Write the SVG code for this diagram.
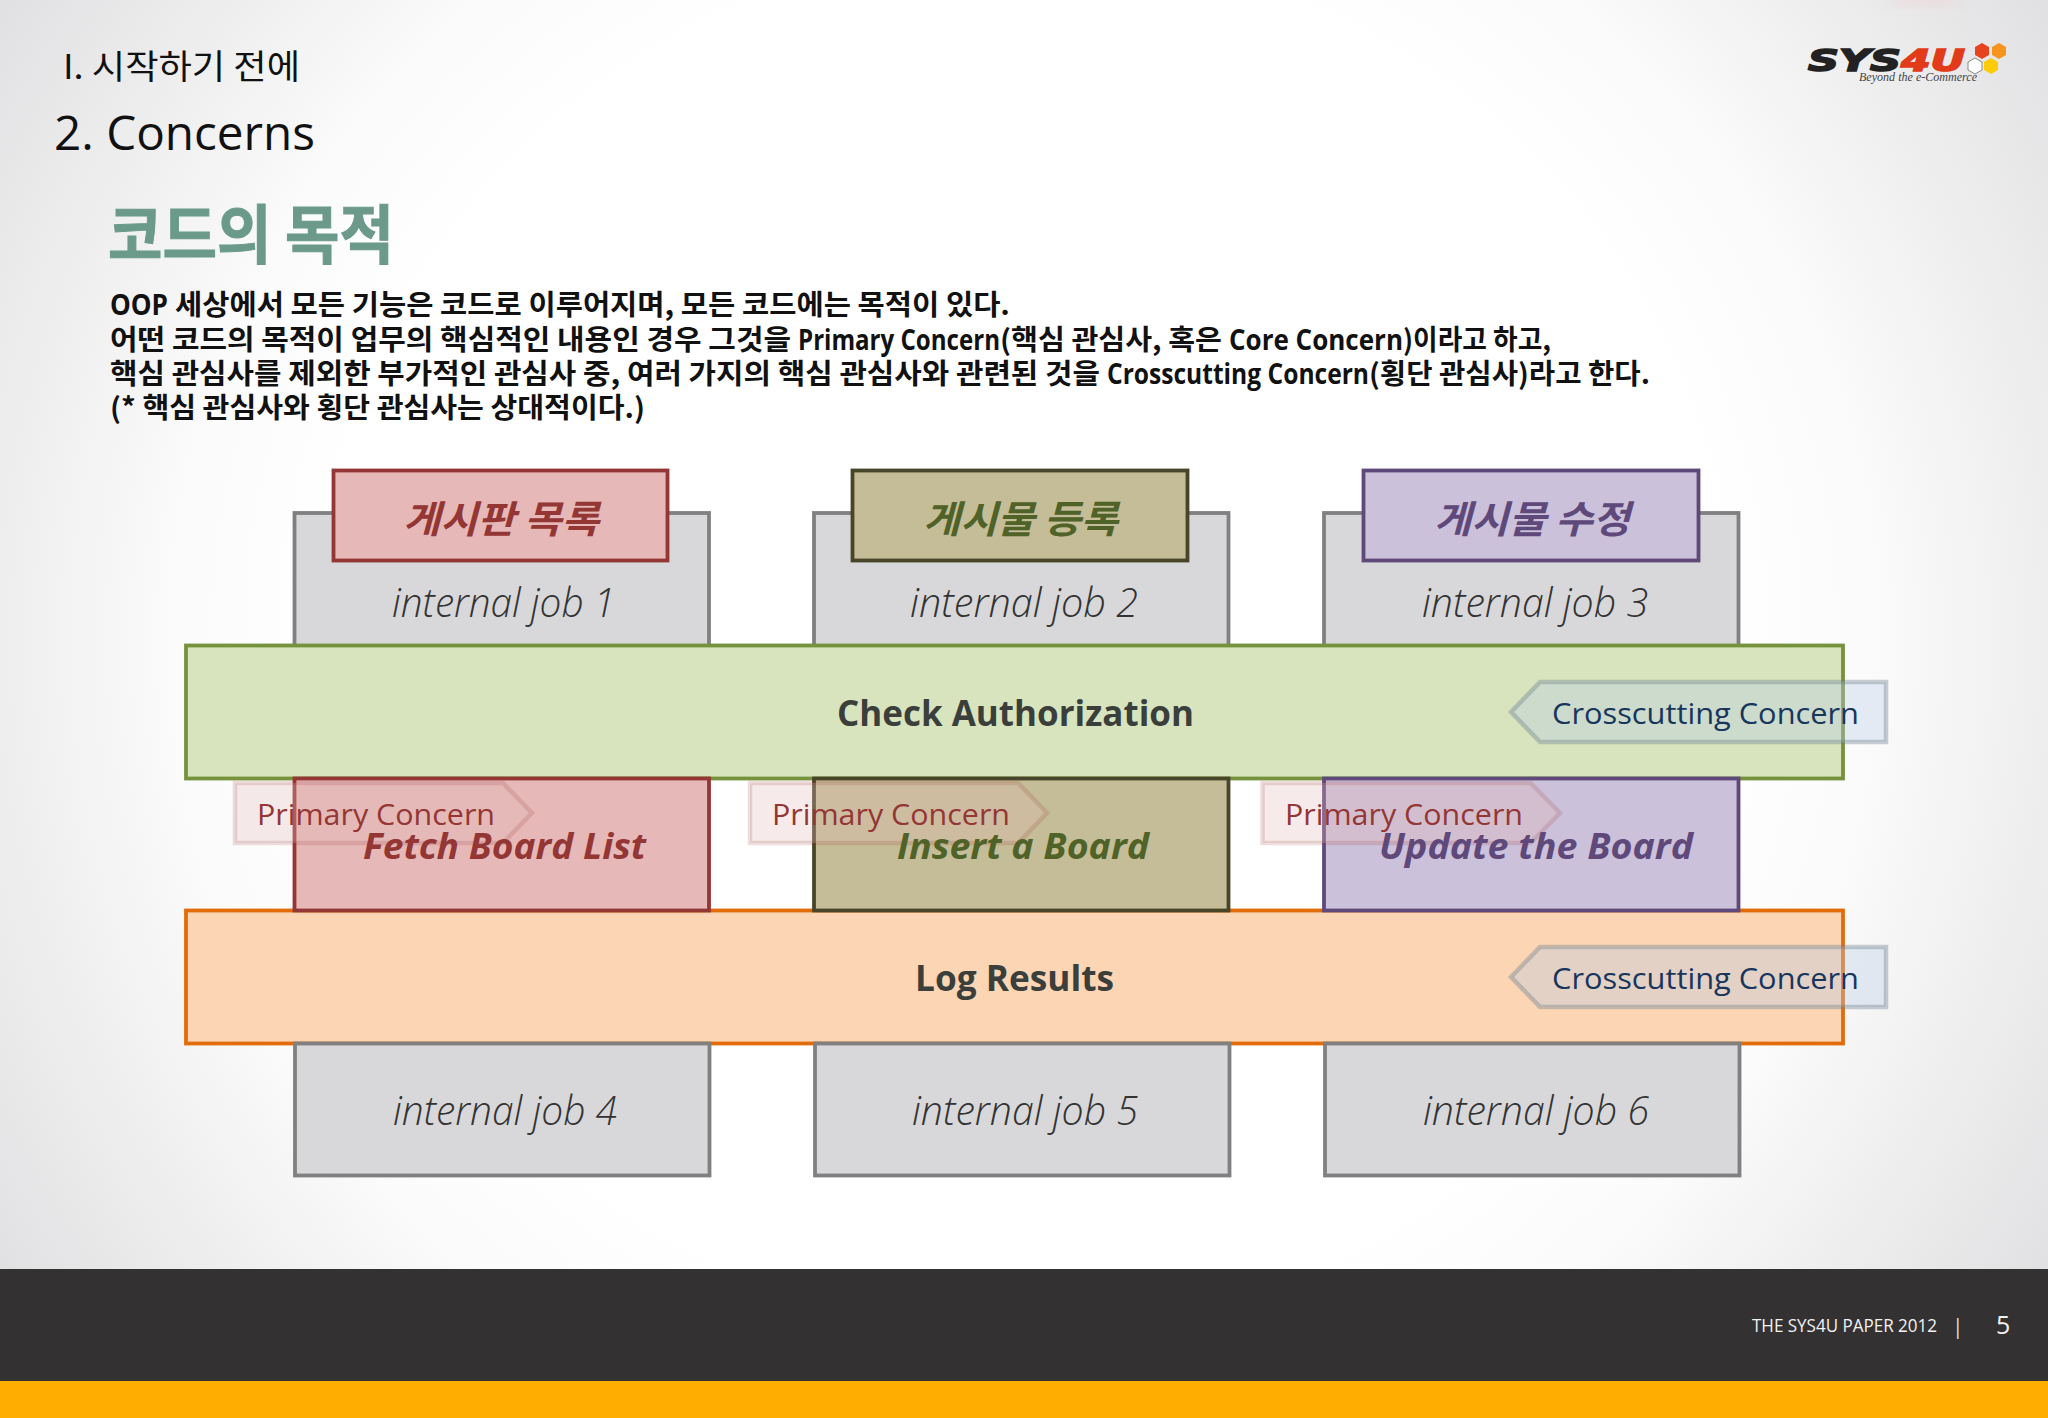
<svg xmlns="http://www.w3.org/2000/svg" width="2048" height="1418" viewBox="0 0 2048 1418">
<style>
text{font-family:"Noto Sans CJK KR","Noto Sans",sans-serif}
.lat{font-family:"Open Sans","Noto Sans","Noto Sans CJK KR",sans-serif}
.job{font-family:"Open Sans","Noto Sans",sans-serif;font-style:italic;font-weight:300;font-size:40px;fill:#333}
.body{font-size:28px;font-weight:700;fill:#111}
.bl{font-family:"Open Sans","Noto Sans",sans-serif;font-weight:700}
.ttl{font-size:38px;font-weight:700;font-style:italic}
.mid{font-family:"Open Sans","Noto Sans",sans-serif;font-size:36px;font-weight:700;font-style:italic}
.bar{font-family:"Open Sans","Noto Sans",sans-serif;font-size:36px;font-weight:700;fill:#3b3f3b}
.grey{fill:#d8d8da;stroke:#808080;stroke-width:3.8}
.r{fill:#e6b9b8;stroke:#943634;stroke-width:3.8}
.o{fill:#c4bd97;stroke:#494529;stroke-width:3.8}
.p{fill:#ccc1da;stroke:#5f497a;stroke-width:3.8}
.rt{fill:#943634}.ot{fill:#4f6228}.pt{fill:#5f497a}
.ptag{fill:#e6b9b8;fill-opacity:.3;stroke:#943634;stroke-opacity:.17;stroke-width:4.5}
.ctag{fill:#b8cce4;fill-opacity:.35;stroke:#6f7f8f;stroke-opacity:.38;stroke-width:4.5}
.pl{font-family:"Open Sans","Noto Sans",sans-serif;font-size:30px;fill:#943634}
.cl{font-family:"Open Sans","Noto Sans",sans-serif;font-size:30px;fill:#17365d}
.logo{font-family:"DejaVu Sans",sans-serif;font-size:30px;font-weight:700;font-style:italic;stroke-width:1.6}
</style>
<defs>
<radialGradient id="bg" gradientUnits="userSpaceOnUse" cx="0" cy="0" r="1.25" gradientTransform="translate(1024 640) scale(1024 1000)">
<stop offset="0" stop-color="#fff"/><stop offset=".54" stop-color="#fff"/><stop offset=".66" stop-color="#fbfbfb"/><stop offset=".8" stop-color="#eeeeef"/><stop offset="1" stop-color="#dcdcde"/>
</radialGradient>
<filter id="sm" x="-50%" y="-50%" width="200%" height="200%"><feGaussianBlur stdDeviation="7"/></filter>
</defs>
<g id="background">
<rect width="2048" height="1418" fill="url(#bg)"/>
<ellipse cx="1925" cy="0" rx="40" ry="5" fill="#f0c8c8" opacity=".5" filter="url(#sm)"/>
</g>
<g id="heading">
<text x="63" y="79" font-size="34" textLength="237" lengthAdjust="spacingAndGlyphs" fill="#111">I. 시작하기 전에</text>
<text x="54" y="150" font-size="47" class="lat" textLength="261" lengthAdjust="spacingAndGlyphs" fill="#111">2. Concerns</text>
<text x="108" y="258" font-size="64" font-weight="700" textLength="286" lengthAdjust="spacingAndGlyphs" fill="#6b9a8b" stroke="#6b9a8b" stroke-width="1">코드의 목적</text>
</g>
<g id="description">
<text class="body" y="314.5"><tspan class="bl" x="110" textLength="58" lengthAdjust="spacingAndGlyphs">OOP</tspan><tspan x="175" textLength="835" lengthAdjust="spacingAndGlyphs">세상에서 모든 기능은 코드로 이루어지며, 모든 코드에는 목적이 있다.</tspan></text>
<text class="body" y="349.5"><tspan x="110" textLength="681" lengthAdjust="spacingAndGlyphs">어떤 코드의 목적이 업무의 핵심적인 내용인 경우 그것을</tspan><tspan class="bl" x="798" textLength="202" lengthAdjust="spacingAndGlyphs">Primary Concern</tspan><tspan x="1000" textLength="222" lengthAdjust="spacingAndGlyphs">(핵심 관심사, 혹은</tspan><tspan class="bl" x="1229" textLength="174" lengthAdjust="spacingAndGlyphs">Core Concern</tspan><tspan x="1403" textLength="148" lengthAdjust="spacingAndGlyphs">)이라고 하고,</tspan></text>
<text class="body" y="384"><tspan x="110" textLength="990" lengthAdjust="spacingAndGlyphs">핵심 관심사를 제외한 부가적인 관심사 중, 여러 가지의 핵심 관심사와 관련된 것을</tspan><tspan class="bl" x="1107" textLength="262" lengthAdjust="spacingAndGlyphs">Crosscutting Concern</tspan><tspan x="1369" textLength="281" lengthAdjust="spacingAndGlyphs">(횡단 관심사)라고 한다.</tspan></text>
<text class="body" x="110" y="418" textLength="535" lengthAdjust="spacingAndGlyphs">(* 핵심 관심사와 횡단 관심사는 상대적이다.)</text>
</g>
<g id="job-1"><rect class="grey" x="294.5" y="513" width="414.5" height="133"/><text class="job" x="392" y="617" textLength="223" lengthAdjust="spacingAndGlyphs">internal job 1</text></g>
<g id="job-2"><rect class="grey" x="814" y="513" width="414.5" height="133"/><text class="job" x="910" y="617" textLength="228" lengthAdjust="spacingAndGlyphs">internal job 2</text></g>
<g id="job-3"><rect class="grey" x="1324" y="513" width="414.5" height="133"/><text class="job" x="1422" y="617" textLength="226" lengthAdjust="spacingAndGlyphs">internal job 3</text></g>
<g id="title-1"><rect class="r" x="333.5" y="470.5" width="334" height="90"/><text class="ttl rt" x="403" y="533" textLength="196" lengthAdjust="spacingAndGlyphs">게시판 목록</text></g>
<g id="title-2"><rect class="o" x="852.5" y="470.5" width="335" height="90"/><text class="ttl ot" x="923" y="533" textLength="195" lengthAdjust="spacingAndGlyphs">게시물 등록</text></g>
<g id="title-3"><rect class="p" x="1363.5" y="470.5" width="335" height="90"/><text class="ttl pt" x="1434" y="533" textLength="196" lengthAdjust="spacingAndGlyphs">게시물 수정</text></g>
<g id="check-authorization"><rect x="186" y="645.5" width="1657" height="133" fill="#d7e4bd" stroke="#76923c" stroke-width="3.8"/><text class="bar" x="837" y="726" textLength="357" lengthAdjust="spacingAndGlyphs">Check Authorization</text></g>
<g id="log-results"><rect x="186" y="910.5" width="1657" height="133" fill="#fcd5b4" stroke="#e36c0a" stroke-width="3.8"/><text class="bar" x="915" y="991" textLength="199" lengthAdjust="spacingAndGlyphs">Log Results</text></g>
<g id="primary-1"><rect class="r" x="294.5" y="778.5" width="414.5" height="132"/></g>
<g id="primary-2"><rect class="o" x="814" y="778.5" width="414.5" height="132"/></g>
<g id="primary-3"><rect class="p" x="1324" y="778.5" width="414.5" height="132"/></g>
<g id="job-4"><rect class="grey" x="295" y="1043.5" width="414.5" height="132"/><text class="job" x="393" y="1125" textLength="224" lengthAdjust="spacingAndGlyphs">internal job 4</text></g>
<g id="job-5"><rect class="grey" x="815" y="1043.5" width="414.5" height="132"/><text class="job" x="912" y="1125" textLength="226" lengthAdjust="spacingAndGlyphs">internal job 5</text></g>
<g id="job-6"><rect class="grey" x="1325" y="1043.5" width="414.5" height="132"/><text class="job" x="1423" y="1125" textLength="226" lengthAdjust="spacingAndGlyphs">internal job 6</text></g>
<g id="tag-primary-1"><path class="ptag" d="M235 783H503L532 813L503 843H235Z"/><text class="pl" x="257" y="825" textLength="238" lengthAdjust="spacingAndGlyphs">Primary Concern</text></g>
<g id="tag-primary-2"><path class="ptag" d="M750 783H1018L1047 813L1018 843H750Z"/><text class="pl" x="772" y="825" textLength="238" lengthAdjust="spacingAndGlyphs">Primary Concern</text></g>
<g id="tag-primary-3"><path class="ptag" d="M1262.5 783H1530.5L1560 813L1530.5 843H1262.5Z"/><text class="pl" x="1285" y="825" textLength="238" lengthAdjust="spacingAndGlyphs">Primary Concern</text></g>
<g id="label-fetch"><text class="mid rt" x="363" y="859" textLength="283" lengthAdjust="spacingAndGlyphs">Fetch Board List</text></g>
<g id="label-insert"><text class="mid ot" x="897" y="859" textLength="252" lengthAdjust="spacingAndGlyphs">Insert a Board</text></g>
<g id="label-update"><text class="mid pt" x="1379" y="859" textLength="314" lengthAdjust="spacingAndGlyphs">Update the Board</text></g>
<g id="tag-cross-1"><path class="ctag" d="M1886 682H1540L1511 712L1540 742H1886Z"/><text class="cl" x="1552" y="724" textLength="307" lengthAdjust="spacingAndGlyphs">Crosscutting Concern</text></g>
<g id="tag-cross-2"><path class="ctag" d="M1886 947H1540L1511 977L1540 1007H1886Z"/><text class="cl" x="1552" y="989" textLength="307" lengthAdjust="spacingAndGlyphs">Crosscutting Concern</text></g>
<g id="footer">
<rect y="1269" width="2048" height="112" fill="#333132"/>
<rect y="1381" width="2048" height="37" fill="#ffae00"/>
<text x="1752" y="1332" font-size="19" class="lat" textLength="185" lengthAdjust="spacingAndGlyphs" fill="#f2f2f2">THE SYS4U PAPER 2012</text>
<text x="1952" y="1334" font-size="21" class="lat" fill="#ddd">|</text>
<text x="1996" y="1334" font-size="25" class="lat" fill="#f2f2f2">5</text>
</g>
<g id="logo">
<text class="logo" x="1808" y="71" textLength="93" lengthAdjust="spacingAndGlyphs" fill="#222" stroke="#222">SYS</text>
<text class="logo" x="1901" y="71" textLength="64" lengthAdjust="spacingAndGlyphs" fill="#e23b1a" stroke="#e23b1a">4U</text>
<path d="M1982 43l7 4v8l-7 4l-7-4v-8z" fill="#e8431f"/>
<path d="M1999 43l7 4v8l-7 4l-7-4v-8z" fill="#f7941d"/>
<path d="M1975 58l7 4v8l-7 4l-7-4v-8z" fill="#fff" stroke="#888" stroke-width="1"/>
<path d="M1991 58l7 4v8l-7 4l-7-4v-8z" fill="#ffcb05"/>
<text x="1859" y="81" font-size="13" font-style="italic" textLength="118" lengthAdjust="spacingAndGlyphs" fill="#444" style="font-family:'Liberation Serif',serif">Beyond the e-Commerce</text>
</g>
</svg>
